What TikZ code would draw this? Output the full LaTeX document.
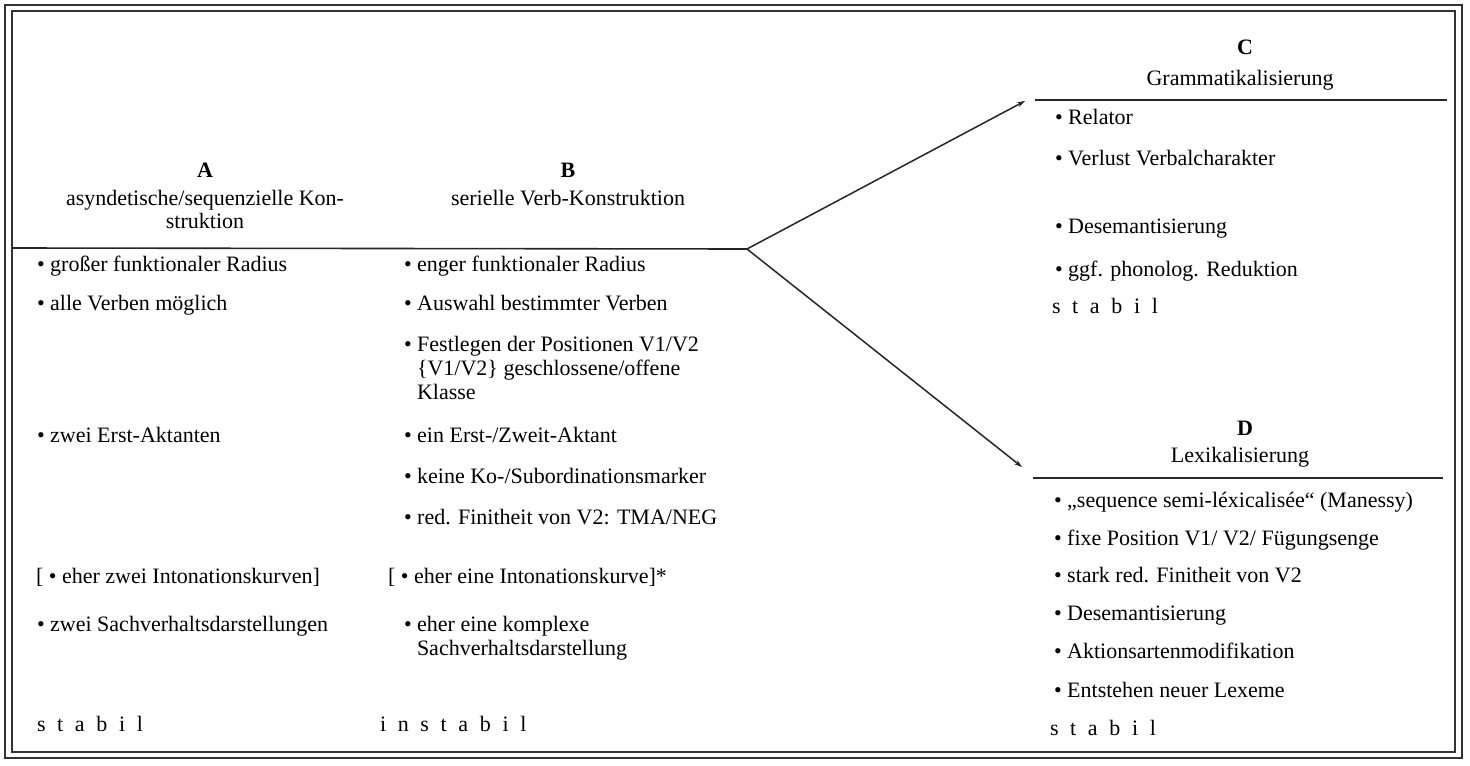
\documentclass[tikz,border=0pt]{standalone}
\usepackage{fontspec}
\setmainfont{Liberation Serif}
\usetikzlibrary{arrows.meta}
\newcommand{\ltrsp}[1]{{\spaceskip=0.53em\relax #1}}
\begin{document}
\begin{tikzpicture}[x=0.5pt,y=-0.5pt,
  every node/.style={inner sep=0pt,outer sep=0pt,font=\fontsize{11}{12}\selectfont},
  txt/.style={anchor=base west,yshift=-2.5pt},
  hd/.style={anchor=base,yshift=-2.5pt},
  hdb/.style={anchor=base,yshift=-2.5pt,font=\fontsize{11}{12}\selectfont\bfseries},
  rule/.style={line width=0.8pt,draw=black!85},
  arr/.style={line width=0.75pt,draw=black!85,-{Stealth[length=4pt,width=2.6pt]}},
  frameout/.style={line width=1.1pt,draw=black!80},
  framein/.style={line width=0.6pt,draw=black!80}]
\useasboundingbox (0,0) rectangle (1470,765);
% frame
\draw[frameout] (5,5) rectangle (1462,758);
\draw[framein] (12,11) rectangle (1455,752);
% headers A, B
\node[hdb] (hA) at (205,172) {A};
\node[hd] (hA1) at (205,200) {asyndetische/sequenzielle Kon-};
\node[hd] (hA2) at (205,223) {struktion};
\node[hdb] (hB) at (568,172) {B};
\node[hd] (hB1) at (568,200) {serielle Verb-Konstruktion};
% main rule and branches
\coordinate (abL) at (12,248);
\coordinate (apex) at (747,249);
\coordinate (cTip) at (1025,101);
\coordinate (dTip) at (1022,467);
\draw[rule] (abL) -- (apex);
\draw[arr] (apex) -- (cTip);
\draw[arr] (apex) -- (dTip);
% column A
\node[txt] (a1) at (37,266) {• großer funktionaler Radius};
\node[txt] (a2) at (37,305) {• alle Verben möglich};
\node[txt] (a3) at (37,437) {• zwei Erst-Aktanten};
\node[txt] (a4) at (36,578) {[ • eher zwei Intonationskurven]};
\node[txt] (a5) at (37,626) {• zwei Sachverhaltsdarstellungen};
\node[txt] (a6) at (37,726) {\ltrsp{s t a b i l}};
% column B
\node[txt] (b1) at (404,266) {• enger funktionaler Radius};
\node[txt] (b2) at (404,305) {• Auswahl bestimmter Verben};
\node[txt] (b3) at (404,346) {• Festlegen der Positionen V1/V2};
\node[txt] (b3b) at (417,370) {\{V1/V2\} geschlossene/offene};
\node[txt] (b3c) at (417,394) {Klasse};
\node[txt] (b4) at (404,437) {• ein Erst-/Zweit-Aktant};
\node[txt] (b5) at (404,478) {• keine Ko-/Subordinationsmarker};
\node[txt] (b6) at (404,519) {• red. Finitheit von V2: TMA/NEG};
\node[txt] (b7) at (388,578) {[ • eher eine Intonationskurve]*};
\node[txt] (b8) at (404,626) {• eher eine komplexe};
\node[txt] (b8b) at (417,650) {Sachverhaltsdarstellung};
\node[txt] (b9) at (380,726) {\ltrsp{i n s t a b i l}};
% column C
\node[hdb] (hC) at (1245,50) {C};
\node[hd] (hC1) at (1240,80) {Grammatikalisierung};
\coordinate (cL) at (1035,100);
\coordinate (cR) at (1447,100);
\draw[rule] (cL) -- (cR);
\node[txt] (c1) at (1055,120) {• Relator};
\node[txt] (c2) at (1055,160) {• Verlust Verbalcharakter};
\node[txt] (c3) at (1055,228) {• Desemantisierung};
\node[txt] (c4) at (1055,271) {• ggf. phonolog. Reduktion};
\node[txt] (c5) at (1052,308) {\ltrsp{s t a b i l}};
% column D
\node[hdb] (hD) at (1245,430) {D};
\node[hd] (hD1) at (1240,457) {Lexikalisierung};
\coordinate (dL) at (1033,478);
\coordinate (dR) at (1443,478);
\draw[rule] (dL) -- (dR);
\node[txt] (d1) at (1054,502) {• ,,sequence semi-léxicalisée“ (Manessy)};
\node[txt] (d2) at (1054,540) {• fixe Position V1/ V2/ Fügungsenge};
\node[txt] (d3) at (1054,577) {• stark red. Finitheit von V2};
\node[txt] (d4) at (1054,615) {• Desemantisierung};
\node[txt] (d5) at (1054,653) {• Aktionsartenmodifikation};
\node[txt] (d6) at (1054,692) {• Entstehen neuer Lexeme};
\node[txt] (d7) at (1050,730) {\ltrsp{s t a b i l}};
\end{tikzpicture}
\end{document}
